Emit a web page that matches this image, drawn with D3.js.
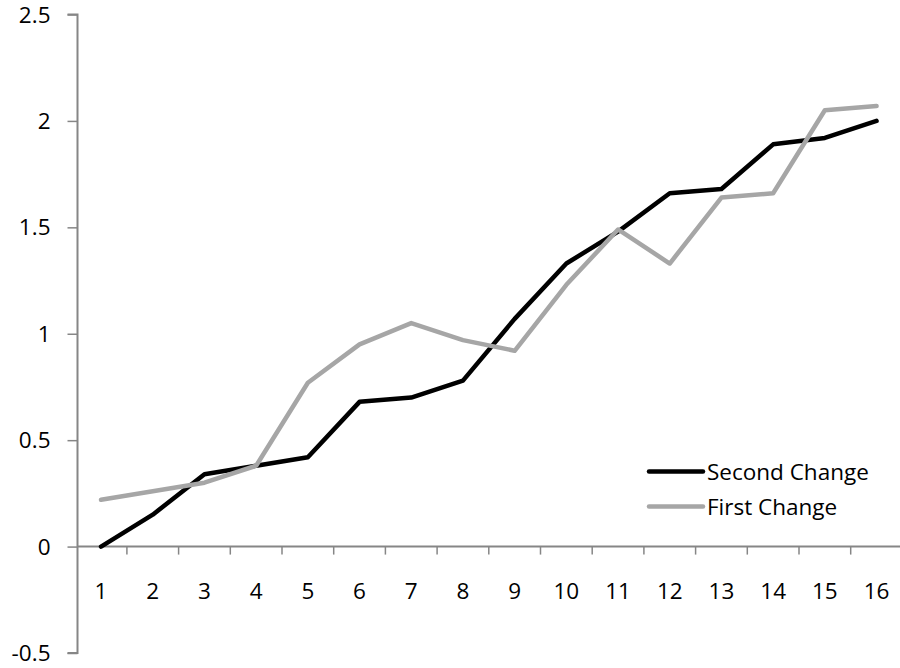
<!DOCTYPE html>
<html><head><meta charset="utf-8">
<script src="https://cdn.jsdelivr.net/npm/d3@7"></script>
<style>html,body{margin:0;padding:0;background:#fff;}svg{display:block;}</style>
</head><body>
<svg id="chart" width="900" height="668"></svg>
<script>
const categories = ["1","2","3","4","5","6","7","8","9","10","11","12","13","14","15","16"];
const secondChange = [0, 0.15, 0.34, 0.38, 0.42, 0.68, 0.70, 0.78, 1.07, 1.33, 1.48, 1.66, 1.68, 1.89, 1.92, 2.00];
const firstChange = [0.22, 0.26, 0.30, 0.38, 0.77, 0.95, 1.05, 0.97, 0.92, 1.23, 1.49, 1.33, 1.64, 1.66, 2.05, 2.07];
const yTicks = [-0.5, 0, 0.5, 1, 1.5, 2, 2.5];
const seriesNames = ["Second Change", "First Change"];
const seriesColors = ["#000000", "#a6a6a6"];

const svg = d3.select("#chart");
const font = "'Open Sans', sans-serif";
const fontSize = "22.5px";
const axisColor = "#868686";
const axisX = 77.5;

const x = d3.scaleBand().domain(categories).range([75.2, 902.4]).paddingInner(0).paddingOuter(0);
const y = d3.scaleLinear().domain([-0.5, 2.5]).range([653, 14.5]);

// Y axis
const yAxis = d3.axisLeft(y).tickValues(yTicks).tickSize(10).tickPadding(17)
  .tickFormat(d => String(d));
const gy = svg.append("g").attr("transform", `translate(${axisX},0)`).call(yAxis);
gy.select(".domain").attr("stroke", axisColor).attr("stroke-width", 2).attr("d", `M-10,${y(2.5)}H0V${y(-0.5)}H-10`);
gy.selectAll(".tick line").attr("stroke", axisColor).attr("stroke-width", 1.5);
gy.selectAll(".tick text").attr("fill", "#000").attr("dy", "0.34em").style("font-family", font).style("font-size", fontSize);

// X axis at y=0
const zeroY = y(0);
const gx = svg.append("g").attr("transform", `translate(0,${zeroY})`);
gx.append("line").attr("x1", axisX).attr("x2", x.range()[1]).attr("y1", 0).attr("y2", 0)
  .attr("stroke", axisColor).attr("stroke-width", 2);
gx.selectAll("line.tk").data(categories.slice(1)).enter().append("line").attr("class","tk")
  .attr("x1", d => x(d)).attr("x2", d => x(d)).attr("y1", 0).attr("y2", 8)
  .attr("stroke", axisColor).attr("stroke-width", 1.5);
gx.append("line").attr("x1", x.range()[1]-1).attr("x2", x.range()[1]-1).attr("y1", 0).attr("y2", 8)
  .attr("stroke", axisColor).attr("stroke-width", 1.5);
gx.selectAll("text").data(categories).enter().append("text")
  .attr("x", d => x(d) + x.bandwidth()/2).attr("y", 52)
  .attr("text-anchor", "middle").style("font-family", font).style("font-size", fontSize).text(d => d);

// Lines
const line = d3.line().x((d, i) => x(categories[i]) + x.bandwidth()/2).y(d => y(d));
const data = [secondChange, firstChange];
svg.selectAll("path.series").data(data).enter().append("path").attr("class", "series")
  .attr("d", d => line(d)).attr("fill", "none")
  .attr("stroke", (d, i) => seriesColors[i]).attr("stroke-width", 4.5)
  .attr("stroke-linejoin", "round").attr("stroke-linecap", "round");

// Legend
const lg = svg.append("g");
seriesNames.forEach((name, i) => {
  const ly = 471.5 + i * 35;
  lg.append("line").attr("x1", 649).attr("x2", 703).attr("y1", ly).attr("y2", ly)
    .attr("stroke", seriesColors[i]).attr("stroke-width", 4.5).attr("stroke-linecap", "round");
  lg.append("text").attr("x", 707).attr("y", ly + 8.5)
    .style("font-family", font).style("font-size", fontSize).text(name);
});
</script>
</body></html>
